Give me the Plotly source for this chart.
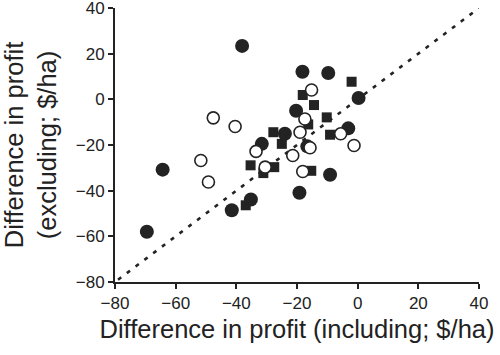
import plotly.graph_objects as go

# Filled circles
fc_x = [-38.1, -18.2, -9.7, 0.3, -20.3, -24.0, -16.6, -3.1, -9.1, -19.2, -64.3, -69.5, -41.5, -35.2, -31.6]
fc_y = [23.4, 12.1, 11.5, 0.6, -5.0, -15.1, -20.6, -12.7, -33.0, -40.9, -30.8, -58.0, -48.6, -43.9, -19.5]

# Open circles
oc_x = [-47.6, -40.4, -51.7, -49.2, -33.5, -30.5, -21.4, -18.1, -15.2, -17.4, -19.0, -5.6, -1.2, -15.7]
oc_y = [-8.1, -11.9, -26.8, -36.2, -22.8, -29.7, -24.6, -31.6, 4.1, -8.6, -14.4, -15.1, -20.2, -21.2]

# Filled squares
sq_x = [-2.0, -18.1, -14.4, -10.2, -16.3, -9.1, -27.8, -25.0, -35.3, -27.5, -31.1, -36.9, -15.3]
sq_y = [7.7, 1.9, -2.5, -7.9, -11.0, -15.5, -14.4, -19.5, -28.9, -29.7, -32.3, -46.4, -31.3]

# 1:1 reference line
line_x = [-79, 40]
line_y = [-79, 40]

ticks = [-80, -60, -40, -20, 0, 20, 40]
tick_text = ["\u221280", "\u221260", "\u221240", "\u221220", "0", "20", "40"]

dark = "#232323"
font_family = "Liberation Sans, Arial, sans-serif"

fig = go.Figure()
fig.add_trace(go.Scatter(x=line_x, y=line_y, mode="lines",
                         line=dict(color=dark, width=2.6, dash="4px,7px"),
                         hoverinfo="skip"))
fig.add_trace(go.Scatter(x=sq_x, y=sq_y, mode="markers",
                         marker=dict(symbol="square", size=10, color=dark, line=dict(width=0))))
fig.add_trace(go.Scatter(x=fc_x, y=fc_y, mode="markers",
                         marker=dict(symbol="circle", size=14, color=dark, line=dict(width=0))))
fig.add_trace(go.Scatter(x=oc_x, y=oc_y, mode="markers",
                         marker=dict(symbol="circle", size=12, color="white",
                                     line=dict(width=1.6, color=dark))))

axis_common = dict(
    range=[-80, 40], tickvals=ticks, ticktext=tick_text,
    showgrid=False, zeroline=False, showline=True, linecolor=dark, linewidth=2,
    ticks="outside", ticklen=5, tickwidth=2, tickcolor=dark, automargin=False,
    ticklabeloverflow="allow",
    tickfont=dict(family=font_family, size=17, color="#222"),
)

fig.update_layout(
    width=500, height=355,
    margin=dict(l=115, r=21, t=8, b=73),
    paper_bgcolor="white", plot_bgcolor="white",
    showlegend=False,
    xaxis=dict(**axis_common,
               title=dict(text="Difference in profit (including; $/ha)",
                          font=dict(family=font_family, size=25.5, color="#222"),
                          standoff=8)),
    yaxis=dict(**axis_common,
               title=dict(text="Difference in profit<br>(excluding; $/ha)",
                          font=dict(family=font_family, size=25.5, color="#222"),
                          standoff=14)),
)

fig.write_html("out.html",
               config={"displayModeBar": False},
               post_script="document.body.style.margin='0';document.body.style.overflow='hidden';")
